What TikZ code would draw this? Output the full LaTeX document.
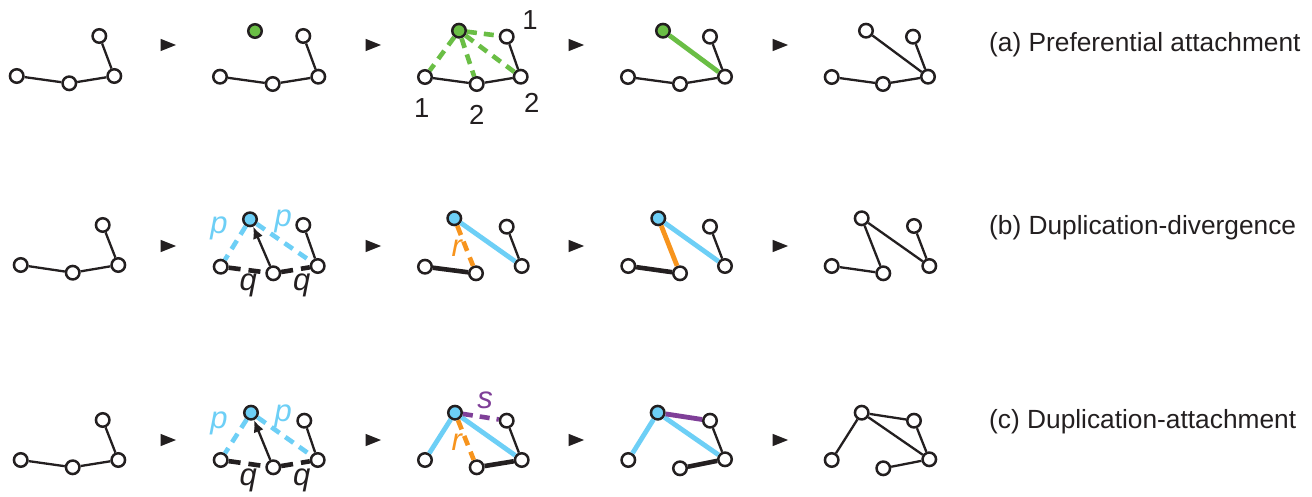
\documentclass[tikz,border=0pt]{standalone}
\usepackage{fontspec}
\setmainfont{Liberation Sans}
\usetikzlibrary{arrows.meta}
\definecolor{ink}{HTML}{231F20}
\definecolor{pagreen}{HTML}{6ABE45}
\definecolor{dupblue}{HTML}{6DCFF6}
\definecolor{divorange}{HTML}{F7941D}
\definecolor{attpurple}{HTML}{7F3F98}
\tikzset{
  v/.style={circle, draw=ink, line width=2.5pt, fill=white, minimum size=13.5pt, inner sep=0pt},
  vg/.style={v, fill=pagreen},
  vb/.style={v, fill=dupblue},
  thin/.style={draw=ink, line width=2.3pt},
  thickink/.style={draw=ink, line width=4.6pt},
  dashes/.style={dash pattern=on 10pt off 7pt},
  gdash/.style={draw=pagreen, line width=4.6pt, dashes},
  bdash/.style={draw=dupblue, line width=4.6pt, dashes},
  odash/.style={draw=divorange, line width=4.6pt, dashes},
  pdash/.style={draw=attpurple, line width=4.6pt, dashes},
  kdash/.style={draw=ink, line width=4.6pt, dash pattern=on 12pt off 8pt},
  gsolid/.style={draw=pagreen, line width=4.8pt},
  bsolid/.style={draw=dupblue, line width=4.8pt},
  osolid/.style={draw=divorange, line width=4.8pt},
  psolid/.style={draw=attpurple, line width=4.8pt},
  dup/.style={draw=ink, line width=2.3pt, -{Latex[length=12pt,width=10.5pt]}},
  lbl/.style={inner sep=0pt, font=\fontsize{27.5}{32}\selectfont, text=ink},
  var/.style={lbl, font=\fontsize{31}{36}\selectfont\itshape},
  title/.style={lbl, anchor=west, font=\fontsize{26.3}{30}\selectfont},
  fwd/.pic={\fill[ink] (-7.5,-6.2) -- (8,0) -- (-7.5,6.2) -- cycle;}
}
\begin{document}
\begin{tikzpicture}[x=1pt, y=-1pt]
\fill[white] (0,0) rectangle (1312,497);
\useasboundingbox (0,0) rectangle (1312,497);

% ---------------- (a) preferential attachment ----------------
\node[v] (a1L) at (16.7,76) {};
\node[v] (a1M) at (69.3,83.3) {};
\node[v] (a1R) at (114.3,76) {};
\node[v] (a1T) at (99.3,36) {};
\draw[thin] (a1L) -- (a1M) -- (a1R) -- (a1T);

\node[vg] (a2G) at (255,31) {};
\node[v] (a2L) at (220,76.7) {};
\node[v] (a2M) at (272.7,84) {};
\node[v] (a2R) at (318.3,76.7) {};
\node[v] (a2T) at (303.3,36) {};
\draw[thin] (a2L) -- (a2M) -- (a2R) -- (a2T);

\node[vg] (a3G) at (459,30.7) {};
\node[v] (a3L) at (425,77) {};
\node[v] (a3M) at (476.7,84) {};
\node[v] (a3R) at (520.7,76.7) {};
\node[v] (a3T) at (506.7,36.7) {};
\draw[thin] (a3L) -- (a3M) -- (a3R) -- (a3T);
\draw[gdash] (a3G) -- (a3L);
\draw[gdash] (a3G) -- (a3M);
\draw[gdash] (a3G) -- (a3R);
\draw[gdash] (a3G) -- (a3T);
\node[lbl] (k3L) at (421.7,108.3) {1};
\node[lbl] (k3M) at (476.7,115) {2};
\node[lbl] (k3R) at (531.7,103.3) {2};
\node[lbl] (k3T) at (530,20) {1};

\node[vg] (a4G) at (663,30.7) {};
\node[v] (a4L) at (628,77) {};
\node[v] (a4M) at (680,84) {};
\node[v] (a4R) at (725,76.7) {};
\node[v] (a4T) at (710,36.7) {};
\draw[thin] (a4L) -- (a4M) -- (a4R) -- (a4T);
\draw[gsolid] (a4G) -- (a4R);

\node[v] (a5G) at (866,30.7) {};
\node[v] (a5L) at (831.7,77) {};
\node[v] (a5M) at (883,84) {};
\node[v] (a5R) at (928,76.7) {};
\node[v] (a5T) at (913,36.7) {};
\draw[thin] (a5L) -- (a5M) -- (a5R) -- (a5T);
\draw[thin] (a5G) -- (a5R);

\foreach \x in {168,373,576,780} \pic at (\x,45) {fwd};
\node[title] (ta) at (989,45) {(a) Preferential attachment};

% ---------------- (b) duplication-divergence ----------------
\node[v] (b1L) at (20.7,265) {};
\node[v] (b1M) at (72.7,272.7) {};
\node[v] (b1R) at (118.3,265) {};
\node[v] (b1T) at (102.7,225) {};
\draw[thin] (b1L) -- (b1M) -- (b1R) -- (b1T);

\node[vb] (b2B) at (250,219.3) {};
\node[v] (b2L) at (220.7,266.7) {};
\node[v] (b2M) at (273.3,273.3) {};
\node[v] (b2R) at (317.7,266) {};
\node[v] (b2T) at (303.3,225) {};
\draw[kdash] (b2L) -- (b2M);
\draw[kdash] (b2M) -- (b2R);
\draw[thin] (b2R) -- (b2T);
\draw[bdash] (b2B) -- (b2L);
\draw[bdash] (b2B) -- (b2R);
\draw[dup] (b2M) -- (b2B);
\node[var, text=dupblue] (pb1) at (219,228.3) {p};
\node[var, text=dupblue] (pb2) at (283.3,221.7) {p};
\node[var] (qb1) at (248.3,285) {q};
\node[var] (qb2) at (301.7,285) {q};

\node[vb] (b3B) at (454.3,218.3) {};
\node[v] (b3L) at (425,266.7) {};
\node[v] (b3M) at (476,273.3) {};
\node[v] (b3R) at (521.7,266) {};
\node[v] (b3T) at (506.7,226.7) {};
\draw[thickink] (b3L) -- (b3M);
\draw[thin] (b3R) -- (b3T);
\draw[bsolid] (b3B) -- (b3R);
\draw[odash] (b3B) -- (b3M);
\node[var, text=divorange] (rb) at (456.7,248.3) {r};

\node[vb] (b4B) at (658.3,218.3) {};
\node[v] (b4L) at (628.3,266) {};
\node[v] (b4M) at (680,273.3) {};
\node[v] (b4R) at (725,266) {};
\node[v] (b4T) at (710,226.7) {};
\draw[thickink] (b4L) -- (b4M);
\draw[thin] (b4R) -- (b4T);
\draw[bsolid] (b4B) -- (b4R);
\draw[osolid] (b4B) -- (b4M);

\node[v] (b5B) at (861.7,218.3) {};
\node[v] (b5L) at (831.7,266) {};
\node[v] (b5M) at (883.3,273.3) {};
\node[v] (b5R) at (929.3,266) {};
\node[v] (b5T) at (914,226) {};
\draw[thin] (b5L) -- (b5M) -- (b5B) -- (b5R) -- (b5T);

\foreach \x in {168,373,576,780} \pic at (\x,246) {fwd};
\node[title] (tb) at (989,228) {(b) Duplication-divergence};

% ---------------- (c) duplication-attachment ----------------
\node[v] (c1L) at (20.7,460) {};
\node[v] (c1M) at (72.7,467.3) {};
\node[v] (c1R) at (118.3,460) {};
\node[v] (c1T) at (102.7,420) {};
\draw[thin] (c1L) -- (c1M) -- (c1R) -- (c1T);

\node[vb] (c2B) at (251,412.7) {};
\node[v] (c2L) at (220.7,460) {};
\node[v] (c2M) at (273.3,467.3) {};
\node[v] (c2R) at (317.7,460) {};
\node[v] (c2T) at (304.3,420.7) {};
\draw[kdash] (c2L) -- (c2M);
\draw[kdash] (c2M) -- (c2R);
\draw[thin] (c2R) -- (c2T);
\draw[bdash] (c2B) -- (c2L);
\draw[bdash] (c2B) -- (c2R);
\draw[dup] (c2M) -- (c2B);
\node[var, text=dupblue] (pc1) at (219,423.3) {p};
\node[var, text=dupblue] (pc2) at (283.3,416.7) {p};
\node[var] (qc1) at (248.3,480) {q};
\node[var] (qc2) at (301.7,480) {q};

\node[vb] (c3B) at (455,412.7) {};
\node[v] (c3L) at (425,460) {};
\node[v] (c3M) at (476.7,467.3) {};
\node[v] (c3R) at (521.7,460) {};
\node[v] (c3T) at (506.7,420.7) {};
\draw[thickink] (c3M) -- (c3R);
\draw[thin] (c3R) -- (c3T);
\draw[bsolid] (c3B) -- (c3L);
\draw[bsolid] (c3B) -- (c3R);
\draw[pdash] (c3B) -- (c3T);
\draw[odash] (c3B) -- (c3M);
\node[var, text=attpurple] (sc) at (485,400) {s};
\node[var, text=divorange] (rc) at (456.7,441.7) {r};

\node[vb] (c4B) at (657.7,412.7) {};
\node[v] (c4L) at (628.3,460) {};
\node[v] (c4M) at (680,468.3) {};
\node[v] (c4R) at (725,459.3) {};
\node[v] (c4T) at (710,420.7) {};
\draw[thickink] (c4M) -- (c4R);
\draw[thin] (c4R) -- (c4T);
\draw[bsolid] (c4B) -- (c4L);
\draw[bsolid] (c4B) -- (c4R);
\draw[psolid] (c4B) -- (c4T);

\node[v] (c5B) at (861.7,412.7) {};
\node[v] (c5L) at (831.7,460) {};
\node[v] (c5M) at (883.3,468.3) {};
\node[v] (c5R) at (929.3,459.3) {};
\node[v] (c5T) at (914,420.7) {};
\draw[thin] (c5L) -- (c5B) -- (c5T) -- (c5R) -- (c5M);
\draw[thin] (c5B) -- (c5R);

\foreach \x in {168,373,576,780} \pic at (\x,440) {fwd};
\node[title] (tc) at (989,421.7) {(c) Duplication-attachment};
\end{tikzpicture}
\end{document}
